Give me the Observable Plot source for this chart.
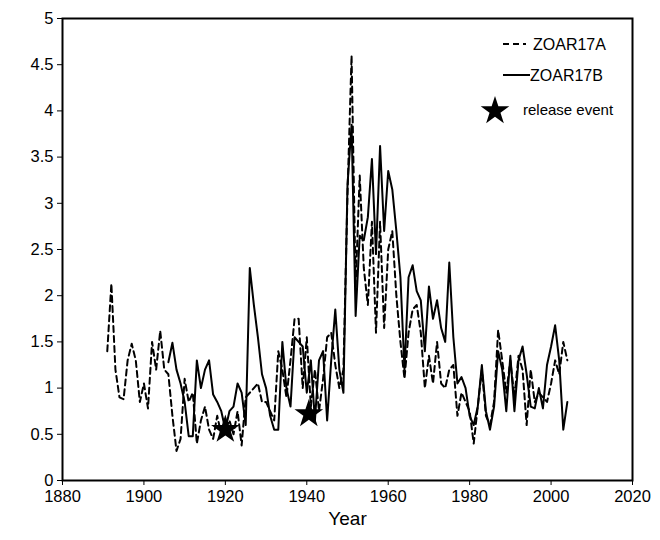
<!DOCTYPE html>
<html>
<head>
<meta charset="utf-8">
<script src="https://cdn.jsdelivr.net/npm/d3@7"></script>
<script src="https://cdn.jsdelivr.net/npm/@observablehq/plot@0.6"></script>
<style>
  body { margin: 0; background: #fff; }
  #chart { width: 660px; height: 540px; }
</style>
</head>
<body>
<div id="chart"></div>
<script>
const yearsA = d3.range(1891, 2005);
const valuesA = [
  1.40, 2.13, 1.20, 0.90, 0.88, 1.30, 1.48, 1.30, 0.85, 1.05,
  0.78, 1.50, 1.20, 1.62, 1.20, 1.15, 0.70, 0.32, 0.45, 1.10,
  0.85, 0.95, 0.40, 0.65, 0.80, 0.55, 0.45, 0.70, 0.50, 0.55,
  0.65, 0.50, 0.75, 0.38, 0.90, 0.95, 1.00, 1.05, 0.85, 0.85,
  0.75, 0.65, 1.40, 1.20, 0.90, 1.30, 1.75, 1.75, 1.00, 1.55,
  0.80, 1.20, 0.75, 1.10, 1.55, 1.60, 1.25, 1.00, 1.20, 3.10,
  4.60, 2.10, 3.30, 2.30, 1.90, 2.80, 1.60, 2.80, 1.65, 2.50,
  2.70, 2.00, 1.50, 1.10, 1.60, 1.85, 1.90, 1.60, 1.00, 1.35,
  1.05, 1.50, 1.05, 1.00, 1.20, 1.25, 0.70, 0.95, 0.85, 0.75,
  0.40, 0.80, 1.20, 0.70, 0.60, 0.85, 1.63, 1.30, 0.95, 1.30,
  0.90, 1.35, 1.20, 0.60, 1.20, 0.85, 0.95, 0.90, 0.85, 1.05,
  1.30, 1.15, 1.50, 1.30
];
const yearsB = d3.range(1906, 2005);
const valuesB = [
  1.28, 1.49, 1.20, 1.05, 0.85, 0.48, 0.48, 1.30, 1.00, 1.20,
  1.30, 0.93, 0.85, 0.75, 0.55, 0.75, 0.80, 1.05, 0.95, 0.60,
  2.30, 1.90, 1.55, 1.15, 1.00, 0.70, 0.55, 0.55, 1.50, 1.00,
  0.80, 1.55, 1.50, 1.45, 0.95, 1.30, 0.65, 1.30, 1.40, 0.65,
  1.30, 1.85, 1.20, 0.95, 3.20, 3.85, 1.78, 2.65, 2.60, 2.85,
  3.48, 2.45, 3.62, 2.70, 3.35, 3.15, 2.70, 2.20, 1.20, 2.20,
  2.33, 2.05, 1.95, 1.40, 2.10, 1.75, 1.95, 1.65, 1.50, 2.36,
  1.55, 1.05, 1.12, 1.00, 0.70, 0.60, 0.80, 1.25, 0.75, 0.55,
  0.80, 1.40, 1.20, 0.75, 1.35, 0.75, 1.30, 1.45, 1.15, 0.80,
  0.78, 1.00, 0.78, 1.25, 1.45, 1.68, 1.30, 0.55, 0.85
];
const eventYears = [1920, 1940.5];
const eventValues = [0.55, 0.72];
const xTicks = d3.range(1880, 2021, 20);
const yTicks = d3.range(0, 5.01, 0.5);
const seriesNames = ["ZOAR17A", "ZOAR17B"];
const eventLabel = "release event";
const xLabel = "Year";

const dataA = yearsA.map((y, i) => ({year: y, value: valuesA[i]}));
const dataB = yearsB.map((y, i) => ({year: y, value: valuesB[i]}));
const events = eventYears.map((y, i) => ({year: y, value: eventValues[i]}));

const chart = Plot.plot({
  width: 660,
  height: 540,
  marginTop: 18,
  marginRight: 28,
  marginBottom: 60,
  marginLeft: 62,
  style: {fontFamily: "'Liberation Sans', Arial, sans-serif", fontSize: "16px", color: "black", background: "white"},
  x: {domain: [1880, 2020]},
  y: {domain: [0, 5]},
  marks: [
    Plot.axisX({ticks: xTicks, tickFormat: "d", tickSize: 5, tickPadding: 5, label: null, fontSize: 16.5, stroke: "black"}),
    Plot.axisY({ticks: yTicks, tickFormat: d => String(d), tickSize: 5, tickPadding: 4, label: null, fontSize: 16.5}),
    Plot.lineY(dataA, {x: "year", y: "value", stroke: "black", strokeWidth: 2, strokeDasharray: "6,4"}),
    Plot.lineY(dataB, {x: "year", y: "value", stroke: "black", strokeWidth: 2}),
    Plot.dot(events, {x: "year", y: "value", symbol: "star", r: 9, fill: "black", stroke: "none"}),
    Plot.frame({stroke: "black", strokeWidth: 2}),
    Plot.text([xLabel], {frameAnchor: "bottom", dy: 44, fontSize: 19, text: d => d})
  ]
});
document.getElementById("chart").appendChild(chart);

// Legend inside the plot area (top right)
const svg = d3.select(chart);
const lg = svg.append("g")
  .attr("font-family", "'Liberation Sans', Arial, sans-serif")
  .attr("font-size", 16)
  .attr("fill", "black")
  .attr("text-anchor", "start");
lg.append("line").attr("x1", 503).attr("x2", 526).attr("y1", 44).attr("y2", 44)
  .attr("stroke", "black").attr("stroke-width", 2).attr("stroke-dasharray", "6,4");
lg.append("text").attr("x", 533).attr("y", 44).attr("dy", "0.35em").text(seriesNames[0]);
lg.append("line").attr("x1", 503).attr("x2", 530).attr("y1", 75).attr("y2", 75)
  .attr("stroke", "black").attr("stroke-width", 2);
lg.append("text").attr("x", 530).attr("y", 75).attr("dy", "0.35em").text(seriesNames[1]);
lg.append("path").attr("d", d3.symbol(d3.symbolStar, Math.PI * 9 * 9)()).attr("transform", "translate(495,111)").attr("fill", "black");
lg.append("text").attr("x", 523).attr("y", 110).attr("dy", "0.35em").attr("font-size", 15).text(eventLabel);
</script>
</body>
</html>
